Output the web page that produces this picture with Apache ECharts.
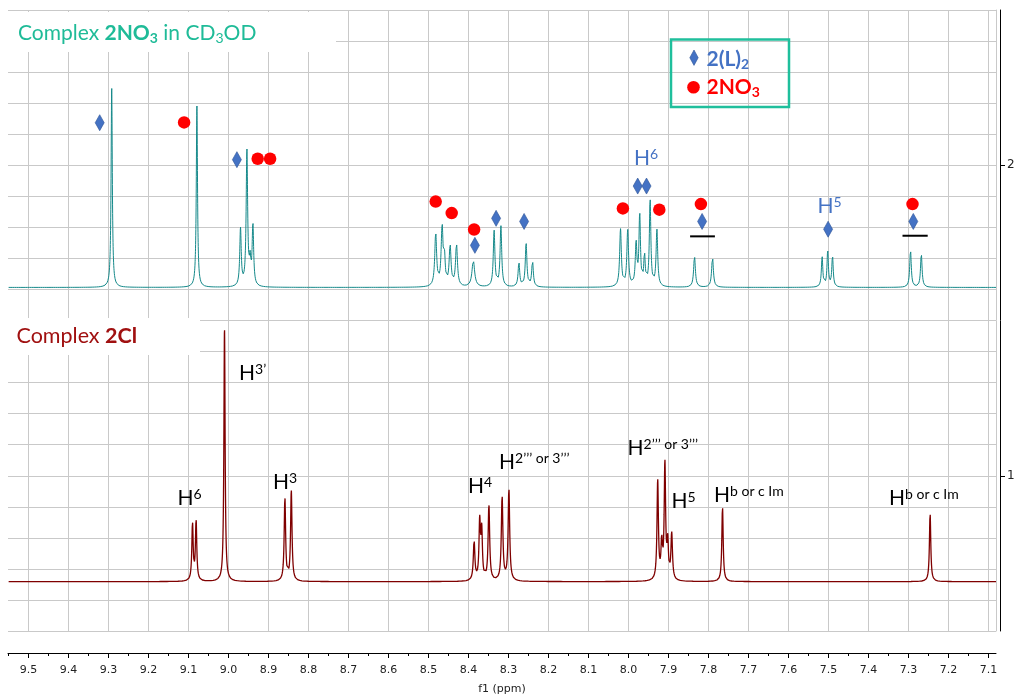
<!DOCTYPE html>
<html>
<head>
<meta charset="utf-8">
<script src="https://cdn.jsdelivr.net/npm/echarts@6/dist/echarts.min.js"></script>
<style>
  html, body { margin: 0; padding: 0; background: #ffffff; }
  #chart { width: 1018px; height: 700px; }
</style>
</head>
<body>
<div id="chart"></div>
<script>
// ---- chemical shift axis (ppm) ----
const ppmMajorTicks = [9.5, 9.4, 9.3, 9.2, 9.1, 9.0, 8.9, 8.8, 8.7, 8.6, 8.5, 8.4, 8.3,
  8.2, 8.1, 8.0, 7.9, 7.8, 7.7, 7.6, 7.5, 7.4, 7.3, 7.2, 7.1];
const ppmMinorTicks = [9.55, 9.45, 9.35, 9.25, 9.15, 9.05, 8.95, 8.85, 8.75, 8.65, 8.55,
  8.45, 8.35, 8.25, 8.15, 8.05, 7.95, 7.85, 7.75, 7.65, 7.55, 7.45, 7.35, 7.25, 7.15];
const intensityTicks = [1, 2];

// ---- Complex 2NO3 in CD3OD: resonances (ppm), heights, half widths ----
const no3Shift = [9.292, 9.079, 8.970, 8.954, 8.946, 8.939,
  8.482, 8.466, 8.460, 8.446, 8.430, 8.388,
  8.336, 8.319, 8.274, 8.256, 8.240,
  8.020, 8.002, 7.981, 7.972, 7.960, 7.946, 7.929,
  7.835, 7.790, 7.516, 7.502, 7.490, 7.295, 7.268];
const no3Height = [0.645, 0.588, 0.185, 0.435, 0.070, 0.195,
  0.170, 0.190, 0.080, 0.130, 0.135, 0.085,
  0.180, 0.195, 0.078, 0.140, 0.084,
  0.185, 0.180, 0.135, 0.228, 0.098, 0.280, 0.182,
  0.100, 0.098, 0.098, 0.115, 0.100, 0.120, 0.108];
const no3HalfWidth = [0.0018, 0.0018, 0.0022, 0.0022, 0.0022, 0.0022,
  0.0028, 0.0028, 0.0022, 0.0028, 0.0028, 0.0040,
  0.0024, 0.0024, 0.0024, 0.0024, 0.0024,
  0.0025, 0.0025, 0.0024, 0.0022, 0.0022, 0.0022, 0.0024,
  0.0026, 0.0026, 0.0021, 0.0021, 0.0021, 0.0023, 0.0023];
const no3Baseline = 1.6065;

// ---- Complex 2Cl: resonances (ppm), heights, half widths ----
const clShift = [9.090, 9.081, 9.010, 8.859, 8.843,
  8.386, 8.372, 8.367, 8.349, 8.316, 8.299,
  7.927, 7.917, 7.909, 7.902, 7.892, 7.765, 7.246];
const clHeight = [0.185, 0.195, 0.815, 0.270, 0.290,
  0.128, 0.185, 0.155, 0.245, 0.272, 0.297,
  0.320, 0.115, 0.370, 0.115, 0.150, 0.243, 0.222];
const clHalfWidth = [0.0020, 0.0020, 0.0018, 0.0021, 0.0021,
  0.0023, 0.0021, 0.0021, 0.0023, 0.0023, 0.0023,
  0.0021, 0.0021, 0.0021, 0.0021, 0.0023, 0.0020, 0.0020];
const clBaseline = 0.659;

// ---- assignment markers on the 2NO3 trace ----
const ligandMarkShift = [9.322, 8.979, 8.384, 8.331, 8.261, 7.977, 7.955, 7.816, 7.501, 7.288];
const ligandMarkLevel = [2.137, 2.018, 1.742, 1.829, 1.819, 1.933, 1.933, 1.819, 1.794, 1.819];
const nitrateMarkShift = [9.111, 8.927, 8.896, 8.482, 8.442, 8.386, 8.014, 7.923, 7.819, 7.290];
const nitrateMarkLevel = [2.138, 2.021, 2.021, 1.883, 1.846, 1.793, 1.861, 1.857, 1.875, 1.875];
const barFrom = [7.846, 7.315];
const barTo = [7.784, 7.252];
const barLevel = [1.771, 1.773];

// ---- axis window ----
const PPM_MIN = 7.08125, PPM_MAX = 9.55125;
const STEP = 0.0002;

function trace(shift, height, halfWidth, base) {
  const pts = [];
  const n = Math.round((PPM_MAX - PPM_MIN) / STEP);
  for (let i = 0; i <= n; i++) {
    const x = PPM_MIN + i * STEP;
    let y = base;
    for (let k = 0; k < shift.length; k++) {
      const d = (x - shift[k]) / halfWidth[k];
      y += height[k] / (1 + d * d);
    }
    pts.push([x, y]);
  }
  return pts;
}

const TEAL = '#15898a';
const DARKRED = '#7f0000';
const BLUE = '#4472c4';
const RED = '#ff0000';
const TITLE_TEAL = '#1fbb98';
const TITLE_RED = '#a01010';
const GRID = '#c9c9c9';
const FONT = 'Lato';
const AXFONT = 'DejaVu Sans';

const chart = echarts.init(document.getElementById('chart'), null, { renderer: 'canvas' });

function peakLabel(x, y, sup, color) {
  return {
    type: 'text', z: 20, x: x, y: y,
    style: {
      text: '{h|H}{s|' + sup + '}',
      fill: color, align: 'left', verticalAlign: 'middle',
      rich: {
        h: { fontFamily: FONT, fontSize: 21, lineHeight: 22, fill: color },
        s: { fontFamily: FONT, fontSize: 14, lineHeight: 12, verticalAlign: 'top', fill: color }
      }
    }
  };
}

const barSeries = barFrom.map((f, i) => ({
  type: 'line', silent: true, animation: false, symbol: 'none', z: 6,
  lineStyle: { color: '#000', width: 2 },
  data: [[f, barLevel[i]], [barTo[i], barLevel[i]]]
}));

const option = {
  animation: false,
  backgroundColor: '#ffffff',
  grid: { left: 8, top: 10, width: 988, height: 629, containLabel: false },
  xAxis: [
    {
      type: 'value', inverse: true, min: PPM_MIN, max: PPM_MAX, position: 'bottom', offset: 22,
      axisLine: { show: true, onZero: false, lineStyle: { color: '#000', width: 1 } },
      axisTick: { show: true, customValues: ppmMajorTicks, length: 5, lineStyle: { color: '#000' } },
      axisLabel: { show: true, customValues: ppmMajorTicks, formatter: v => v.toFixed(1),
        fontFamily: AXFONT, fontSize: 11, color: '#222', margin: 12 },
      splitLine: { show: true, lineStyle: { color: GRID, width: 1 } },
      name: 'f1 (ppm)', nameLocation: 'middle', nameGap: 31,
      nameTextStyle: { fontFamily: AXFONT, fontSize: 11, color: '#222' }
    },
    {
      type: 'value', inverse: true, min: PPM_MIN, max: PPM_MAX, position: 'bottom', offset: 22,
      axisLine: { show: false, onZero: false },
      axisTick: { show: true, customValues: ppmMinorTicks, length: 3, lineStyle: { color: '#000' } },
      axisLabel: { show: false },
      splitLine: { show: false }
    }
  ],
  yAxis: [
    {
      type: 'value', position: 'right', min: 0.5, max: 2.5, interval: 0.1,
      axisLine: { show: true, onZero: false, lineStyle: { color: GRID, width: 1 } },
      axisTick: { show: false }, axisLabel: { show: false },
      splitLine: { show: true, lineStyle: { color: GRID, width: 1 } }
    },
    {
      type: 'value', position: 'right', offset: 4, min: 0.5, max: 2.5,
      axisLine: { show: true, onZero: false, lineStyle: { color: '#000', width: 1 } },
      axisTick: { show: true, customValues: intensityTicks, length: 5, lineStyle: { color: '#000' } },
      axisLabel: { show: true, customValues: intensityTicks, formatter: v => String(Math.round(v)),
        fontFamily: AXFONT, fontSize: 12, color: '#222', margin: 7 },
      splitLine: { show: false }
    }
  ],
  series: [
    {
      name: 'Complex 2NO3', type: 'line', silent: true, symbol: 'none', z: 3,
      lineStyle: { color: TEAL, width: 1 },
      data: trace(no3Shift, no3Height, no3HalfWidth, no3Baseline)
    },
    {
      name: 'Complex 2Cl', type: 'line', silent: true, symbol: 'none', z: 3,
      lineStyle: { color: DARKRED, width: 1.3 },
      data: trace(clShift, clHeight, clHalfWidth, clBaseline)
    },
    ...barSeries,
    {
      name: '2(L)2', type: 'scatter', silent: true, symbol: 'diamond', symbolSize: [9, 16], z: 7,
      itemStyle: { color: BLUE, borderColor: '#2f5597', borderWidth: 0.6, opacity: 1 },
      data: ligandMarkShift.map((s, i) => [s, ligandMarkLevel[i]])
    },
    {
      name: '2NO3', type: 'scatter', silent: true, symbol: 'circle', symbolSize: 12.5, z: 7,
      itemStyle: { color: RED, opacity: 1 },
      data: nitrateMarkShift.map((s, i) => [s, nitrateMarkLevel[i]])
    }
  ],
  graphic: [
    // title boxes
    { type: 'rect', z: 10, shape: { x: 7, y: 12, width: 329, height: 40 }, style: { fill: '#fff' } },
    { type: 'rect', z: 10, shape: { x: 7, y: 318, width: 193, height: 37 }, style: { fill: '#fff' } },
    {
      type: 'text', z: 20, x: 18, y: 33,
      style: {
        text: '{r|Complex }{b|2NO}{bs|3}{r| in CD}{rs|3}{r|OD}',
        align: 'left', verticalAlign: 'middle', fill: TITLE_TEAL,
        rich: {
          r: { fontFamily: FONT, fontSize: 21, lineHeight: 24, fill: TITLE_TEAL },
          b: { fontFamily: FONT, fontSize: 21, fontWeight: 'bold', lineHeight: 24, fill: TITLE_TEAL },
          bs: { fontFamily: FONT, fontSize: 14, fontWeight: 'bold', lineHeight: 10, verticalAlign: 'bottom', fill: TITLE_TEAL },
          rs: { fontFamily: FONT, fontSize: 14, lineHeight: 10, verticalAlign: 'bottom', fill: TITLE_TEAL }
        }
      }
    },
    {
      type: 'text', z: 20, x: 16.5, y: 336.5,
      style: {
        text: '{r|Complex }{b|2Cl}',
        align: 'left', verticalAlign: 'middle', fill: TITLE_RED,
        rich: {
          r: { fontFamily: FONT, fontSize: 21.5, lineHeight: 24, fill: TITLE_RED },
          b: { fontFamily: FONT, fontSize: 21.5, fontWeight: 'bold', lineHeight: 24, fill: TITLE_RED }
        }
      }
    },
    // key box
    { type: 'rect', z: 20, shape: { x: 671, y: 39.5, width: 118, height: 67.5 },
      style: { fill: 'none', stroke: '#1fbf9c', lineWidth: 2.5 } },
    { type: 'polygon', z: 20, shape: { points: [[694, 50], [698.2, 57.7], [694, 65.4], [689.8, 57.7]] },
      style: { fill: BLUE, stroke: '#2f5597', lineWidth: 0.6 } },
    { type: 'circle', z: 20, shape: { cx: 693.5, cy: 87.3, r: 6.3 }, style: { fill: RED } },
    {
      type: 'text', z: 20, x: 706.5, y: 59.5,
      style: {
        text: '{b|2(L)}{s|2}', align: 'left', verticalAlign: 'middle', fill: BLUE,
        rich: {
          b: { fontFamily: FONT, fontSize: 21, fontWeight: 'bold', lineHeight: 24, fill: BLUE },
          s: { fontFamily: FONT, fontSize: 14, fontWeight: 'bold', lineHeight: 10, verticalAlign: 'bottom', fill: BLUE }
        }
      }
    },
    {
      type: 'text', z: 20, x: 706.5, y: 87.5,
      style: {
        text: '{b|2NO}{s|3}', align: 'left', verticalAlign: 'middle', fill: RED,
        rich: {
          b: { fontFamily: FONT, fontSize: 21, fontWeight: 'bold', lineHeight: 24, fill: RED },
          s: { fontFamily: FONT, fontSize: 14, fontWeight: 'bold', lineHeight: 10, verticalAlign: 'bottom', fill: RED }
        }
      }
    },
    // assignments on the 2NO3 trace
    peakLabel(634, 158, '6', BLUE),
    peakLabel(817.5, 206.5, '5', BLUE),
    // assignments on the 2Cl trace
    peakLabel(177.5, 498, '6', '#000'),
    peakLabel(239, 373, '3’', '#000'),
    peakLabel(273, 482.5, '3', '#000'),
    peakLabel(468, 486.5, '4', '#000'),
    peakLabel(499, 462.5, '2’’’ or 3’’’', '#000'),
    peakLabel(627.5, 448, '2’’’ or 3’’’', '#000'),
    peakLabel(671.5, 501.5, '5', '#000'),
    peakLabel(714, 495, 'b or c Im', '#000'),
    peakLabel(889, 498, 'b or c Im', '#000')
  ]
};

chart.setOption(option);
</script>
</body>
</html>
